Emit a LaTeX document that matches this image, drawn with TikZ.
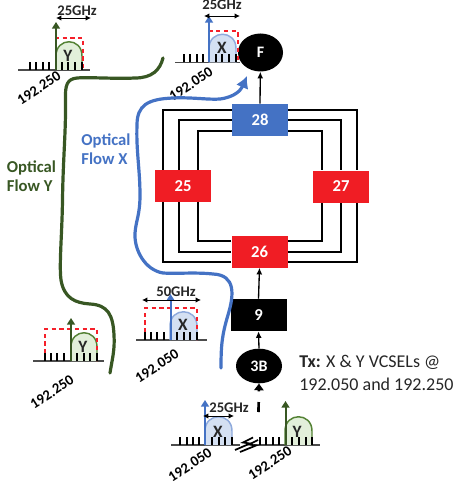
\documentclass[tikz,border=0pt]{standalone}
\usepackage{fontspec}
\setmainfont{Carlito}
\usetikzlibrary{calc,arrows.meta,shapes.geometric}
\definecolor{flowb}{HTML}{4472C4}
\definecolor{flowg}{HTML}{385723}
\definecolor{domeb}{HTML}{D4E0F2}
\definecolor{domebl}{HTML}{8FAADC}
\definecolor{domeg}{HTML}{E2EFDA}
\definecolor{domegl}{HTML}{548235}
\definecolor{boxred}{HTML}{F01D24}
\definecolor{dashred}{HTML}{F5202A}
\definecolor{txt}{HTML}{262626}
\tikzset{
  x=0.75pt,y=-0.75pt,
  blk/.style={minimum width=42pt,minimum height=24pt,inner sep=0pt,font=\fontsize{12.5}{14}\bfseries,text=white},
  oval/.style={ellipse,fill=black,inner sep=0pt,font=\fontsize{12}{14}\bfseries,text=white},
  ring/.style={line width=1.5pt,black},
  feed/.style={line width=1pt,black,-{Latex[length=5pt,width=4.5pt]}},
  hz/.style={font=\fontsize{11}{12}\bfseries,text=txt,inner sep=0pt},
  freq/.style={font=\fontsize{11}{12}\bfseries,text=black,rotate=33,inner sep=0pt},
  lett/.style={font=\fontsize{13}{14}\bfseries,text=txt,inner sep=0pt},
  span/.style={line width=0.7pt,black,{Latex[length=4pt,width=4pt]}-{Latex[length=4pt,width=4pt]}},
  base/.style={line width=1pt,black!70},
  tick/.style={line width=1pt,black},
  redbox/.style={line width=0.9pt,draw=dashred,dash pattern=on 3.2pt off 2.6pt},
  flow/.style={line width=2.4pt,line cap=round},
  up/.style={line width=1.5pt,-{Triangle[length=5pt,width=6pt]}},
}
\newcommand{\ticksat}[2]{\foreach \q in {#2}{\draw[tick] (\q,#1) -- ++(0,-8);}}
\newcommand{\dome}[5]{% x0,x1,ybase,fill,line
  \path[fill=#4] (#1,#3) -- (#1,#3-14) .. controls (#1,#3-33) and (#2,#3-33) .. (#2,#3-14) -- (#2,#3) -- cycle;
  \draw[line width=1.1pt,draw=#5] (#1,#3) -- (#1,#3-14) .. controls (#1,#3-33) and (#2,#3-33) .. (#2,#3-14) -- (#2,#3);}
\begin{document}
\begin{tikzpicture}
\useasboundingbox (0,0) rectangle (454,485);
% blocks
\node[blk,fill=flowb] (b28) at (260,120) {28};
\node[blk,fill=boxred] (b25) at (183,186) {25};
\node[blk,fill=boxred] (b27) at (341,186.5) {27};
\node[blk,fill=boxred] (b26) at (259.5,251.5) {26};
\node[blk,fill=black] (b9) at (258.5,315) {9};
\node[oval,minimum width=34.5pt,minimum height=26pt] (b3) at (259,366) {3B};
\node[oval,minimum width=33.75pt,minimum height=28.5pt] (bF) at (260.5,52.5) {F};
% ring lines
\foreach \tl/\lx/\rx/\bl in {6/8.5/69/-5.5,16/24.5/53/-15.5,27/43/34/-27}{
  \draw[ring] ($(b28.north west)+(0,\tl)$) -| ($(b25.north west)+(\lx,0)$);
  \draw[ring] ($(b28.north east)+(0,\tl)$) -| ($(b27.north west)+(\rx-25,0)$);
  \draw[ring] ($(b26.south west)+(0,\bl)$) -| ($(b25.south west)+(\lx,0)$);
  \draw[ring] ($(b26.south east)+(0,\bl)$) -| ($(b27.south west)+(\rx-25,0)$);
}
\draw[feed] (b28.north) -- (bF);
\draw[feed] (b9.north) -- (b26.south);
\draw[feed] (b3.north) -- (b9.south);
\coordinate (txin) at (258.5,412);
\draw[line width=2pt,dash pattern=on 7.5pt off 8pt,-{Triangle[length=5pt,width=7pt]}] (txin) -- (b3.south);
% top-left spectrum
\draw[base] (18,70) -- (90,70);
\dome{56}{82}{70}{domeg}{domegl}
\draw[redbox] (56,70) -- (56,38) -- (83,38) -- (83,70);
\ticksat{70}{30,36,43,49,62,68,75,82}
\draw[up,flowg] (56,70) -- (56,22);
\draw[span] (56,18) -- (91,18);
\node[hz] at (77,11) {25GHz};
\node[lett] at (68,56) {Y};
\node[freq] at (39,88) {192.250};
% top-mid spectrum
\draw[base] (175,62.5) -- (240,62.5);
\dome{209}{236}{62.5}{domeb}{domebl}
\draw[redbox] (209,62.5) -- (209,31) -- (238,31) -- (238,62.5);
\ticksat{62.5}{184,190,197,203,216,222,229,236}
\draw[up,flowb] (209,62.5) -- (209,16);
\draw[span] (204,16) -- (240,16);
\node[hz] at (222,5) {25GHz};
\node[lett] at (222,48) {X};
\node[freq] at (191,84) {192.050};
% 50GHz spectrum
\draw[base] (136,340) -- (207,340);
\dome{170}{197}{340}{domeb}{domebl}
\draw[redbox] (145,340) -- (145,308) -- (197,308) -- (197,340);
\ticksat{340}{145,151,157,164,177,184,190,197}
\draw[up,flowb] (170.5,340) -- (170.5,294);
\draw[span] (142,300) -- (201,300);
\node[hz] at (176,291.5) {50GHz};
\node[lett] at (183,325) {X};
\node[freq] at (157,366) {192.050};
% lower-left spectrum
\draw[base] (33,361) -- (104,361);
\dome{71}{97}{361}{domeg}{domegl}
\draw[redbox] (45,361) -- (45,329) -- (97,329) -- (97,361);
\ticksat{361}{45,51,57,64,77,84,90,97}
\draw[up,flowg] (71,361) -- (71,318);
\node[lett] at (83,347) {Y};
\node[freq] at (52,392) {192.250};
% bottom spectrum
\draw[base] (171,445) -- (320,445);
\dome{205}{232}{445}{domeb}{domebl}
\dome{285}{312}{445}{domeg}{domegl}
\ticksat{445}{180,187,193,199,212,219,225,232,260,266,273,279,292,299,306,312}
\draw[up,flowb] (205,445) -- (205,400);
\draw[up,flowg] (285.5,445) -- (285.5,401);
\draw[span] (203,416) -- (234,416);
\node[hz] at (229,408) {25GHz};
\node[lett] at (218,432) {X};
\node[lett] at (297,432) {Y};
\node[freq] at (190,465) {192.050};
\node[freq] at (270,463) {192.250};
\path[fill=white] (240,442) rectangle (254,448);
\draw[line width=1.3pt] (235,450) -- (250,443.5) -- (243,442.5) -- (253,437.5);
\draw[line width=1.3pt] (240,452) -- (256,445.5) -- (249,444.5) -- (258,440);
% flows
\draw[flow,flowg] (163,58) .. controls (160,70) and (152,78) .. (135,78)
  .. controls (115,79) and (90,77) .. (77,78) .. controls (67,79) and (65,85) .. (65.5,100)
  .. controls (66,130) and (63,160) .. (62.5,200) .. controls (62,235) and (59,265) .. (61,280)
  .. controls (64,298) and (75,303) .. (90,304) .. controls (108,305) and (113,315) .. (114,335)
  .. controls (115,350) and (112,360) .. (110,373);
\draw[flow,flowb,-{Latex[length=9pt,width=10pt]}] (221,368) .. controls (221,345) and (222,335) .. (228,315)
  .. controls (234,295) and (236,275) .. (213,274) .. controls (195,272) and (175,274) .. (163,273)
  .. controls (145,270) and (134,250) .. (135,233) .. controls (136,220) and (140,215) .. (140,195)
  .. controls (140,170) and (136,150) .. (137,125)
  .. controls (137,105) and (148,99) .. (173,98) .. controls (190,97) and (210,100) .. (220,99)
  .. controls (235,97) and (241,90) .. (247,76);
% labels
\node[font=\fontsize{12.5}{14.5}\bfseries,text=flowb,align=left,inner sep=0pt] (lx) at (106,149) {Optical\\Flow X};
\node[font=\fontsize{12.5}{14.5}\bfseries,text=flowg,align=left,inner sep=0pt] (ly) at (31.5,176.5) {Optical\\Flow Y};
\node[font=\fontsize{13.5}{17}\selectfont,text=txt,align=left,anchor=west,inner sep=0pt] (tx) at (299,373) {\textbf{Tx:} X \& Y VCSELs @\\192.050 and 192.250};
\end{tikzpicture}
\end{document}
